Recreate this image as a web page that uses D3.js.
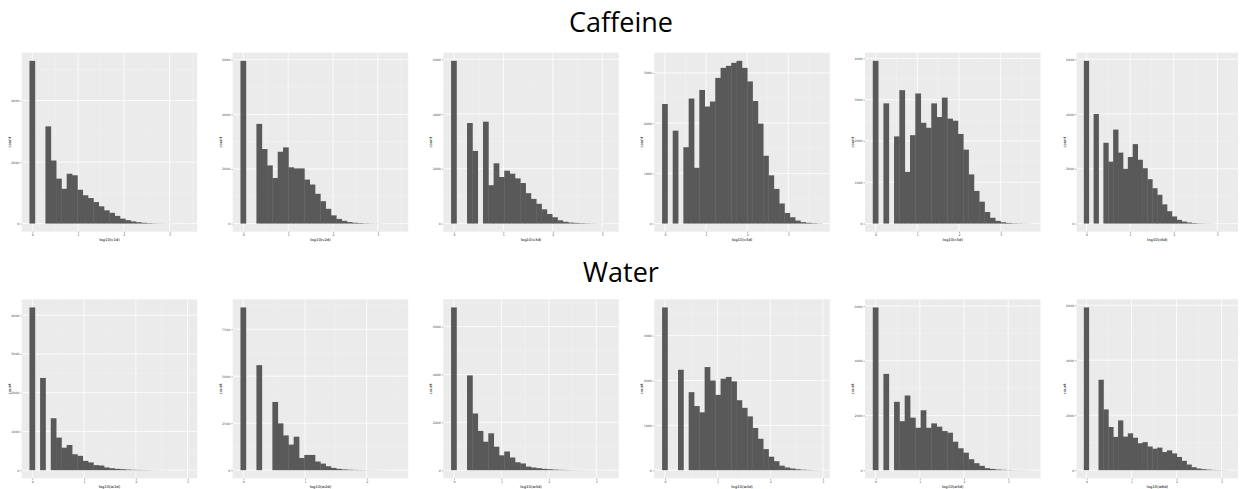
<!DOCTYPE html>
<html lang="en">
  <head>
    <meta charset="UTF-8" />
    <title>Caffeine vs Water histograms</title>
    <script src="https://cdn.jsdelivr.net/npm/d3@7/dist/d3.min.js"></script>
    <style>
      body { margin: 0; background: #fff; }
      svg { display: block; }
    </style>
  </head>
  <body>
    <script>
      // counts per bin (30 bins, ggplot default)
      const c1Counts = [5290, 0, 0, 3160, 2050, 1460, 1130, 1620, 1570, 1100, 920, 830, 700, 560, 430, 350, 250, 160, 110, 70, 45, 25, 14, 8, 5, 3, 2, 1, 0, 1];
      const c2Counts = [5960, 0, 0, 3650, 2730, 2130, 1670, 2630, 2790, 2060, 2020, 2020, 1610, 1430, 1090, 820, 540, 300, 170, 100, 55, 30, 18, 10, 6, 4, 2, 1, 1, 1];
      const c3Counts = [5940, 0, 0, 3670, 2650, 0, 3720, 1400, 2200, 1700, 1930, 1820, 1650, 1480, 1110, 900, 720, 520, 350, 230, 120, 65, 36, 24, 15, 10, 6, 3, 2, 1];
      const c4Counts = [2380, 0, 1850, 0, 1520, 2490, 1110, 2660, 2330, 2430, 2900, 3100, 3140, 3200, 3240, 3100, 2830, 2440, 1990, 1350, 960, 690, 400, 210, 125, 60, 28, 15, 8, 4];
      const c5Counts = [3940, 0, 2910, 0, 2110, 3230, 1250, 2140, 3150, 2440, 2320, 2910, 2580, 3050, 2540, 2490, 2170, 1790, 1190, 790, 530, 280, 140, 65, 32, 15, 8, 5, 3, 2];
      const c6Counts = [5940, 0, 4000, 0, 2950, 2260, 3430, 2590, 2000, 2430, 2900, 2330, 2020, 1620, 1290, 1050, 700, 450, 260, 135, 73, 40, 20, 10, 6, 4, 2, 1, 1, 1];
      const w1Counts = [4200, 0, 2380, 0, 1340, 840, 580, 650, 410, 370, 240, 200, 130, 120, 70, 50, 34, 25, 16, 10, 7, 5, 3, 2, 1, 1, 0, 0, 0, 1];
      const w2Counts = [8660, 0, 0, 5590, 0, 0, 3630, 2490, 1850, 1360, 1780, 650, 810, 810, 460, 350, 210, 120, 70, 40, 25, 15, 10, 6, 4, 3, 2, 1, 1, 1];
      const w3Counts = [6800, 0, 0, 3960, 2370, 1640, 1190, 1540, 980, 620, 780, 530, 330, 280, 150, 110, 83, 55, 40, 25, 15, 10, 6, 4, 3, 2, 1, 1, 1, 1];
      const w4Counts = [3630, 0, 0, 2240, 0, 1740, 1430, 1290, 2300, 2000, 1680, 2040, 2080, 1980, 1560, 1390, 1200, 940, 700, 470, 300, 200, 100, 60, 37, 20, 10, 6, 3, 2];
      const w5Counts = [5950, 0, 3520, 0, 2500, 1790, 2730, 1920, 1550, 2190, 1550, 1710, 1590, 1430, 1370, 1040, 800, 640, 400, 255, 158, 73, 45, 25, 14, 8, 5, 3, 2, 1];
      const w6Counts = [5920, 0, 0, 3290, 2210, 1570, 1210, 1810, 1220, 1340, 1180, 980, 1020, 860, 780, 820, 660, 720, 610, 480, 340, 205, 108, 60, 36, 20, 10, 6, 3, 2];

      // largest log10 value in each panel (sets the bin width)
      const caffeineMax = [3.37, 3.44, 3.12, 3.75, 3.7, 3.25];
      const waterMax = [2.98, 2.5, 3.25, 2.93, 3.49, 3.15];

      const caffeineNames = ["log10(c1d)", "log10(c2d)", "log10(c3d)", "log10(c4d)", "log10(c5d)", "log10(c6d)"];
      const waterNames = ["log10(w1d)", "log10(w2d)", "log10(w3d)", "log10(w4d)", "log10(w5d)", "log10(w6d)"];

      const caffeineYTicks = [
        [0, 2000, 4000],
        [0, 2000, 4000, 6000],
        [0, 2000, 4000, 6000],
        [0, 1000, 2000, 3000],
        [0, 1000, 2000, 3000, 4000],
        [0, 2000, 4000, 6000],
      ];
      const waterYTicks = [
        [0, 1000, 2000, 3000, 4000],
        [0, 2500, 5000, 7500],
        [0, 2000, 4000, 6000],
        [0, 1000, 2000, 3000],
        [0, 2000, 4000, 6000],
        [0, 2000, 4000, 6000],
      ];
      const xTicks = [0, 1, 2, 3];
      const rowTitles = ["Caffeine", "Water"];

      const width = 1240;
      const height = 489;
      const nBins = 30;

      const svg = d3
        .select("body")
        .append("svg")
        .attr("width", width)
        .attr("height", height);

      const rows = [
        {
          title: rowTitles[0],
          top: 52.7,
          titleY: 32,
          counts: [c1Counts, c2Counts, c3Counts, c4Counts, c5Counts, c6Counts],
          maxes: caffeineMax,
          names: caffeineNames,
          yTicks: caffeineYTicks,
        },
        {
          title: rowTitles[1],
          top: 299.3,
          titleY: 282,
          counts: [w1Counts, w2Counts, w3Counts, w4Counts, w5Counts, w6Counts],
          maxes: waterMax,
          names: waterNames,
          yTicks: waterYTicks,
        },
      ];

      const panelLeft = [21.7, 232.7, 443.3, 654.3, 865, 1076.7];
      const panelW = 175.5;
      const panelH = 179;

      rows.forEach((row) => {
        svg
          .append("text")
          .attr("x", 621)
          .attr("y", row.titleY)
          .attr("text-anchor", "middle")
          .attr("font-family", "Open Sans, sans-serif")
          .attr("font-size", 27)
          .attr("fill", "#000")
          .text(row.title);

        row.counts.forEach((counts, p) => drawPanel(row, p, counts));
      });

      function drawPanel(row, p, counts) {
        const M = row.maxes[p];
        const bw = M / (nBins - 1);
        const pad = 0.05 * (M + bw);
        const left = panelLeft[p];
        const w = Math.min(panelW, 1238 - left);
        const ticksY = row.yTicks[p];
        const maxCount = d3.max(counts);

        const x = d3
          .scaleLinear()
          .domain([-bw / 2 - pad, M + bw / 2 + pad])
          .range([0, w]);
        const y = d3
          .scaleLinear()
          .domain([-0.05 * maxCount, 1.05 * maxCount])
          .range([panelH, 0]);

        const g = svg
          .append("g")
          .attr("transform", `translate(${left},${row.top})`);

        g.append("rect")
          .attr("width", w)
          .attr("height", panelH)
          .attr("fill", "#EBEBEB");

        // minor grid
        const step = ticksY[1] - ticksY[0];
        const yMinor = d3
          .range(ticksY[0] - step / 2, y.domain()[1], step / 2)
          .filter((v) => !ticksY.includes(v) && v > y.domain()[0]);
        const xMinor = d3
          .range(-0.5, x.domain()[1], 0.5)
          .filter((v) => v % 1 !== 0 && v > x.domain()[0]);

        g.selectAll(".ymin")
          .data(yMinor)
          .enter()
          .append("line")
          .attr("x1", 0)
          .attr("x2", w)
          .attr("y1", (d) => y(d))
          .attr("y2", (d) => y(d))
          .attr("stroke", "#F5F5F5")
          .attr("stroke-width", 0.4);
        g.selectAll(".xmin")
          .data(xMinor)
          .enter()
          .append("line")
          .attr("y1", 0)
          .attr("y2", panelH)
          .attr("x1", (d) => x(d))
          .attr("x2", (d) => x(d))
          .attr("stroke", "#F5F5F5")
          .attr("stroke-width", 0.4);

        // major grid
        const xT = xTicks.filter((v) => v <= x.domain()[1]);
        g.selectAll(".ymaj")
          .data(ticksY)
          .enter()
          .append("line")
          .attr("x1", 0)
          .attr("x2", w)
          .attr("y1", (d) => y(d))
          .attr("y2", (d) => y(d))
          .attr("stroke", "#fff")
          .attr("stroke-width", 0.8);
        g.selectAll(".xmaj")
          .data(xT)
          .enter()
          .append("line")
          .attr("y1", 0)
          .attr("y2", panelH)
          .attr("x1", (d) => x(d))
          .attr("x2", (d) => x(d))
          .attr("stroke", "#fff")
          .attr("stroke-width", 0.8);

        // bars; each a little wider so neighbours overlap and no seams show
        g.selectAll(".bar")
          .data(counts.map((c, i) => ({ c, i })).filter((d) => d.c > 0))
          .enter()
          .append("rect")
          .attr("x", (d) => x((d.i - 0.5) * bw) - 0.2)
          .attr("width", (d) => x((d.i + 0.5) * bw) - x((d.i - 0.5) * bw) + 0.4)
          .attr("y", (d) => y(d.c))
          .attr("height", (d) => y(0) - y(d.c))
          .attr("fill", "#595959");

        // axes
        const xAxis = d3
          .axisBottom(x)
          .tickValues(xT)
          .tickFormat(d3.format("d"))
          .tickSize(1.5)
          .tickPadding(1);
        const yAxis = d3
          .axisLeft(y)
          .tickValues(ticksY)
          .tickFormat(d3.format("d"))
          .tickSize(1.5)
          .tickPadding(1);

        const gx = g.append("g").attr("transform", `translate(0,${panelH})`).call(xAxis);
        const gy = g.append("g").call(yAxis);
        [gx, gy].forEach((a) => {
          a.select(".domain").remove();
          a.selectAll("line").attr("stroke", "#4D4D4D").attr("stroke-width", 0.4);
          a.selectAll("text")
            .attr("font-family", "DejaVu Sans, sans-serif")
            .attr("font-size", 3.2)
            .attr("fill", "#4D4D4D");
        });

        g.append("text")
          .attr("x", w / 2)
          .attr("y", panelH + 9.5)
          .attr("text-anchor", "middle")
          .attr("font-family", "DejaVu Sans, sans-serif")
          .attr("font-size", 3.8)
          .attr("fill", "#000")
          .text(row.names[p]);

        g.append("text")
          .attr("transform", `translate(-11,${panelH / 2}) rotate(-90)`)
          .attr("text-anchor", "middle")
          .attr("font-family", "DejaVu Sans, sans-serif")
          .attr("font-size", 3.8)
          .attr("fill", "#000")
          .text("count");
      }
    </script>
  </body>
</html>
